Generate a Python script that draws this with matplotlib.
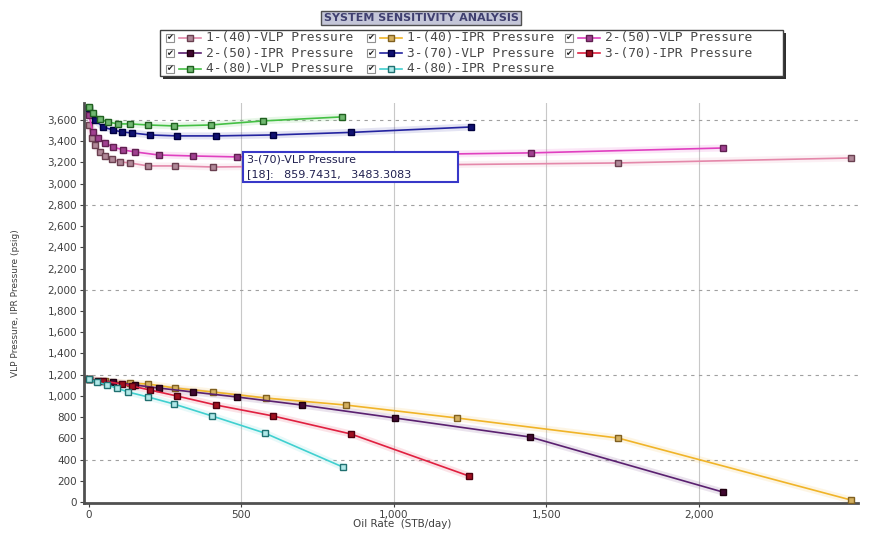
import matplotlib.pyplot as plt
from matplotlib.patches import Rectangle
from matplotlib.lines import Line2D
from matplotlib.ticker import FuncFormatter

# oil rate (STB/day) and pressure (psig) for each sensitivity case
vlp1_q = [0, 10, 20, 36, 52, 75, 102, 135, 194, 284, 407, 1736, 2500]
vlp1_p = [3553, 3431, 3365, 3299, 3261, 3233, 3205, 3195, 3167, 3167, 3157, 3195, 3242]
ipr1_q = [0, 52, 135, 194, 284, 407, 581, 843, 1207, 1736, 2500]
ipr1_p = [1155, 1140, 1120, 1112, 1074, 1037, 980, 914, 792, 603, 19]

vlp2_q = [0, 13, 30, 52, 79, 112, 151, 230, 341, 486, 1450, 2080]
vlp2_p = [3648, 3487, 3431, 3384, 3346, 3318, 3299, 3270, 3261, 3252, 3290, 3336]
ipr2_q = [0, 30, 79, 151, 230, 341, 486, 699, 1004, 1447, 2080]
ipr2_p = [1155, 1145, 1131, 1103, 1074, 1037, 990, 914, 792, 613, 94]

vlp3_q = [0, 20, 46, 79, 108, 141, 200, 289, 417, 604, 860, 1253]
vlp3_p = [3713, 3600, 3534, 3506, 3487, 3478, 3459, 3450, 3450, 3459, 3483, 3534]
ipr3_q = [0, 46, 108, 141, 200, 289, 417, 604, 860, 1247]
ipr3_p = [1155, 1140, 1112, 1093, 1056, 999, 914, 811, 641, 245]

vlp4_q = [0, 13, 36, 62, 95, 135, 194, 279, 400, 571, 830]
vlp4_p = [3723, 3666, 3610, 3581, 3563, 3563, 3553, 3544, 3553, 3591, 3629]
ipr4_q = [0, 26, 59, 92, 128, 194, 279, 404, 577, 833]
ipr4_p = [1155, 1131, 1103, 1074, 1037, 990, 924, 811, 650, 330]

labels = ['1-(40)-VLP Pressure', '1-(40)-IPR Pressure', '2-(50)-VLP Pressure',
          '2-(50)-IPR Pressure', '3-(70)-VLP Pressure', '3-(70)-IPR Pressure',
          '4-(80)-VLP Pressure', '4-(80)-IPR Pressure']
series = [(vlp1_q, vlp1_p), (ipr1_q, ipr1_p), (vlp2_q, vlp2_p), (ipr2_q, ipr2_p),
          (vlp3_q, vlp3_p), (ipr3_q, ipr3_p), (vlp4_q, vlp4_p), (ipr4_q, ipr4_p)]
# line colour, marker face, marker edge
styles = [('#e488aa', '#b08898', '#6a4050'),
          ('#f0b428', '#d4b060', '#806020'),
          ('#e040c0', '#a04090', '#602050'),
          ('#5a2070', '#400830', '#200010'),
          ('#2424a0', '#101070', '#000040'),
          ('#e02040', '#a01020', '#500010'),
          ('#44c044', '#70b870', '#206020'),
          ('#40d0d0', '#b0e8e8', '#207070')]

W, H = 872, 548
fig = plt.figure(figsize=(W / 100, H / 100), dpi=100)

# main plot area in pixel terms: x 84..858, y 103..503
ax = fig.add_axes([84 / W, 1 - 503 / H, 774 / W, 400 / H])
for (q, p), (lc, fc, ec) in zip(series, styles):
    ax.plot(q, p, color=lc, lw=5, alpha=0.12, solid_capstyle='round', zorder=2)
    ax.plot(q, p, color=lc, lw=1.2, marker='s', markersize=4.5,
            markerfacecolor=fc, markeredgecolor=ec, markeredgewidth=1, zorder=3)

ax.set_xlim(-16, 2523)
ax.set_ylim(-9, 3760)
ax.set_xticks([0, 500, 1000, 1500, 2000])
ax.set_yticks(range(0, 3601, 200))
fmt = FuncFormatter(lambda v, pos: f'{int(v):,}')
ax.xaxis.set_major_formatter(fmt)
ax.yaxis.set_major_formatter(fmt)
ax.tick_params(labelsize=7.5, colors='#404040', length=3, width=0.8, pad=2)

# grid: solid vertical, dashed horizontal every 800
for xv in [500, 1000, 1500, 2000]:
    ax.axvline(xv, color='#c8c8c8', lw=0.8, zorder=1)
for yv in [400, 1200, 2000, 2800, 3600]:
    ax.axhline(yv, color='#a0a0a0', lw=0.8, ls=(0, (3, 4)), zorder=1)

for s in ['top', 'right']:
    ax.spines[s].set_visible(False)
for s in ['left', 'bottom']:
    ax.spines[s].set_color('#505050')
    ax.spines[s].set_linewidth(2)

ax.set_xlabel('Oil Rate  (STB/day)', fontsize=7.5, color='#404040')
ax.xaxis.set_label_coords((402 - 84) / 774, -(519 - 503) / 400)
ax.set_ylabel('VLP Pressure, IPR Pressure (psig)', fontsize=6.5, color='#404040')
ax.yaxis.set_label_coords(-(84 - 20) / 774, 0.5)

# tooltip box
ax.add_patch(Rectangle(((243 - 84) / 774, (503 - 182) / 400), 215 / 774, 30 / 400,
                       transform=ax.transAxes, facecolor='white', edgecolor='#3838c8',
                       lw=1.5, zorder=5))
ax.text((247 - 84) / 774, (503 - 160) / 400, '3-(70)-VLP Pressure', transform=ax.transAxes,
        fontsize=8, color='#202050', va='center', zorder=6)
ax.text((247 - 84) / 774, (503 - 174) / 400, '[18]:   859.7431,   3483.3083', transform=ax.transAxes,
        fontsize=8, color='#202050', va='center', zorder=6)

# title box
fig.text(421 / W, 1 - 18 / H, 'SYSTEM SENSITIVITY ANALYSIS', ha='center', va='center',
         fontsize=8, color='#404070', fontweight='bold',
         bbox=dict(boxstyle='square,pad=0.2', facecolor='#c4c6d8', edgecolor='#505050', lw=1))

# legend drawn in its own pixel-unit axes
lg = fig.add_axes([160 / W, 1 - 76 / H, 623 / W, 46 / H])
lg.set_xlim(160, 783)
lg.set_ylim(76, 30)
lg.axis('off')
lg.add_patch(Rectangle((163, 33), 623, 46, facecolor='#303030', edgecolor='none', clip_on=False, zorder=0))
lg.add_patch(Rectangle((160, 30), 623, 46, facecolor='white', edgecolor='#404040', lw=1, clip_on=False, zorder=1))
col_x = [166, 367, 565]
row_y = [38, 53.5, 69]
for i, (lab, (lc, fc, ec)) in enumerate(zip(labels, styles)):
    cx = col_x[i % 3]
    cy = row_y[i // 3]
    lg.add_patch(Rectangle((cx, cy - 4), 8, 8, facecolor='white', edgecolor='#909090', lw=0.8, zorder=2))
    lg.text(cx + 4, cy, '✔', fontsize=6, ha='center', va='center', color='#202020', zorder=3)
    lg.add_line(Line2D([cx + 13, cx + 35], [cy, cy], color=lc, lw=1.2, zorder=2))
    lg.add_line(Line2D([cx + 24], [cy], color=lc, marker='s', markersize=4.5,
                       markerfacecolor=fc, markeredgecolor=ec, zorder=3))
    lg.text(cx + 40, cy, lab, fontsize=9.3, family='DejaVu Sans Mono', ha='left', va='center',
            color='#484848', zorder=3)

fig.savefig('out.png', dpi=100)
